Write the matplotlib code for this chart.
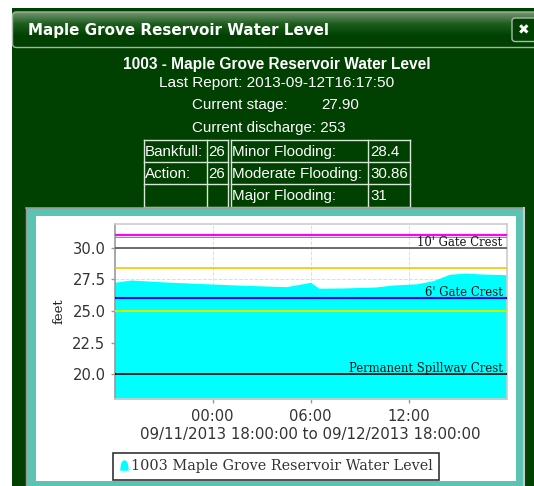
import matplotlib
matplotlib.use('Agg')
import matplotlib.pyplot as plt
import matplotlib.dates as mdates
from matplotlib.lines import Line2D
from matplotlib.patches import FancyBboxPatch, Rectangle
from matplotlib.path import Path
from datetime import datetime
import numpy as np

W, H = 534, 486

# water level
times = ['09-11 18:00', '09-11 19:00', '09-11 21:00', '09-12 00:00', '09-12 02:00', '09-12 04:30',
         '09-12 05:30', '09-12 06:00', '09-12 06:30', '09-12 08:00', '09-12 10:00', '09-12 11:00',
         '09-12 12:30', '09-12 13:30', '09-12 14:30', '09-12 15:30', '09-12 16:30', '09-12 18:00']
levels = [27.27, 27.45, 27.3, 27.13, 27.03, 26.92, 27.15, 27.27, 26.8, 26.82, 26.9, 27.05,
          27.15, 27.4, 27.9, 28.0, 27.92, 27.87]

# horizontal stage lines
stages = [31, 30.86, 30, 28.4, 26, 25, 20]
stage_colors = ['#ff00ff', '#ff30a0', '#555555', '#ffc000', '#0000ff', '#c8f000', '#000000']
stage_widths = [1.6, 0.6, 1.2, 1.2, 1.5, 1.5, 1.2]

crests = ["10' Gate Crest", "6' Gate Crest", 'Permanent Spillway Crest']
crest_levels = [30, 26, 20]

table_rows = [['Bankfull:', '26', 'Minor Flooding:', '28.4'],
              ['Action:', '26', 'Moderate Flooding:', '30.86'],
              ['', '', 'Major Flooding:', '31']]

GREEN = '#004000'
TEAL = '#5cc3b3'
SERIF = 'DejaVu Serif'
SANS = 'DejaVu Sans'
ARIAL = 'Liberation Sans'
HEAD = 10.9

fig = plt.figure(figsize=(W / 100, H / 100), dpi=100, facecolor='white')

# page furniture, in pixel coordinates
bg = fig.add_axes([0, 0, 1, 1])
bg.set_xlim(0, W)
bg.set_ylim(H, 0)
bg.axis('off')
bg.add_patch(Rectangle((12, 8), W - 12, H - 8, fc=GREEN, ec='none'))

bar = FancyBboxPatch((12.5, 12), W, 35.5, boxstyle='round,pad=0,rounding_size=4', fc='none', ec='#9fb59f', lw=1, zorder=2)
bg.add_patch(bar)
grad = np.linspace(0, 1, 36).reshape(-1, 1)
bar_cmap = matplotlib.colors.LinearSegmentedColormap.from_list('bar', ['#6f946f', '#1c5c1c', GREEN, GREEN])
img = bg.imshow(grad, extent=(12, W, 48, 12), aspect='auto', cmap=bar_cmap, zorder=1)
img.set_clip_path(bar)
bg.set_xlim(0, W)
bg.set_ylim(H, 0)
bg.text(28, 30.5, 'Maple Grove Reservoir Water Level', color='white', fontsize=10.9, fontweight='bold', family=SANS, va='center', zorder=3)
bg.add_patch(FancyBboxPatch((512, 18), 30, 23.5, boxstyle='round,pad=0,rounding_size=3', fc=GREEN, ec='#a8bca8', lw=1, zorder=3))
bg.text(524, 30.5, '\u2716', color='white', fontsize=10, ha='center', va='center', family=SANS, zorder=4)

cx = 276.5
bg.text(cx, 64, '1003 - Maple Grove Reservoir Water Level', color='white', fontsize=11.2, fontweight='bold', family=ARIAL, ha='center', va='center')
bg.text(cx, 83, 'Last Report: 2013-09-12T16:17:50', color='white', fontsize=11.1, family=ARIAL, ha='center', va='center')
bg.text(192, 105, 'Current stage:', color='white', fontsize=HEAD, family=ARIAL, va='center')
bg.text(321, 105, '27.90', color='white', fontsize=HEAD, family=ARIAL, va='center')
bg.text(192, 128, 'Current discharge: 253', color='white', fontsize=HEAD, family=ARIAL, va='center')

# flood table
col_x = [143.5, 206.5, 227.5, 230.5, 368, 410]
row_y = [140.5, 162.5, 184.5, 206.5]
for xp in col_x:
    bg.plot([xp, xp], [row_y[0], row_y[-1]], color='#d8e8d8', lw=1)
for yp in row_y:
    bg.plot([col_x[0], col_x[2]], [yp, yp], color='#d8e8d8', lw=1)
    bg.plot([col_x[3], col_x[5]], [yp, yp], color='#d8e8d8', lw=1)
text_x = [145, 208, 232, 370]
for r, row in enumerate(table_rows):
    for c, val in enumerate(row):
        bg.text(text_x[c], (row_y[r] + row_y[r + 1]) / 2, val, color='white', fontsize=HEAD, family=ARIAL, va='center')

# chart frame
bg.add_patch(Rectangle((27, 208), 496, H - 208, fc=TEAL, ec='none', zorder=2))
bg.plot([26, 524], [207.5, 207.5], color='#9a9a9a', lw=1.2, zorder=2)
bg.plot([26, 26], [208, H], color='#9a9a9a', lw=1, zorder=2)
bg.plot([524, 524], [208, H], color='#c8c8c8', lw=1.5, zorder=2)
bg.add_patch(Rectangle((36, 216), 480, 265, fc='white', ec='none', zorder=3))

# the chart itself
L, R, T, B = 114.5, 506.7, 224, 399.3
ax = fig.add_axes([L / W, 1 - B / H, (R - L) / W, (B - T) / H])

t = [datetime.strptime('2013-' + s, '%Y-%m-%d %H:%M') for s in times]
ax.fill_between(t, levels, 18.03, color='#00ffff', lw=0, zorder=2)
for s, c, lw_ in zip(stages, stage_colors, stage_widths):
    ax.axhline(s, color=c, lw=lw_, zorder=3)
for name, lev in zip(crests, crest_levels):
    ax.annotate(name, (1, lev), xycoords=('axes fraction', 'data'), xytext=(-3, -0.7), textcoords='offset points',
                ha='right', va='bottom', fontsize=8.4, family=SERIF, color='#111111', zorder=4)

ax.set_xlim(datetime(2013, 9, 11, 18), datetime(2013, 9, 12, 18))
ax.set_ylim(18.03, 31.87)
ax.xaxis.set_major_locator(mdates.HourLocator(byhour=[0, 6, 12]))
ax.xaxis.set_major_formatter(mdates.DateFormatter('%H:%M'))
ax.set_yticks([20, 22.5, 25, 27.5, 30])
ax.set_yticklabels(['20.0', '22.5', '25.0', '27.5', '30.0'])
ax.grid(True, color='#dddddd', ls='--', lw=0.7, zorder=1)
ax.tick_params(axis='both', labelsize=10.6, labelcolor='#333333', color='#999999', length=3, width=1)
ax.tick_params(axis='x', pad=4)
for lab in ax.get_xticklabels() + ax.get_yticklabels():
    lab.set_family(SANS)
ax.set_xlabel('09/11/2013 18:00:00 to 09/12/2013 18:00:00', fontsize=10.8, family=SANS, color='#333333', labelpad=2)
ax.set_ylabel('feet', fontsize=9.5, family=SERIF, color='#222222', labelpad=5)
for side in ['top', 'right', 'bottom']:
    ax.spines[side].set_color('#cccccc')
ax.spines['left'].set_color('#999999')
for sp in ax.spines.values():
    sp.set_linewidth(1.2)

# legend swatch is a small rounded-top area sample
bell = Path([(-0.8, -1), (-0.8, 0), (-0.6, 1), (0, 1), (0.6, 1), (0.8, 0), (0.8, -1), (-0.8, -1)],
            [Path.MOVETO, Path.CURVE4, Path.CURVE4, Path.CURVE4, Path.CURVE4, Path.CURVE4, Path.CURVE4, Path.CLOSEPOLY])
handle = Line2D([], [], marker=bell, ls='none', color='#00ffff', markersize=7.5, markeredgewidth=0)
leg = ax.legend([handle], ['1003 Maple Grove Reservoir Water Level'], loc='center',
                bbox_to_anchor=(276 / W, 1 - 466 / H), bbox_transform=fig.transFigure,
                prop={'family': SERIF, 'size': 10.4}, fancybox=False, framealpha=1, edgecolor='#333333',
                handletextpad=0.15, borderpad=0.45, handlelength=0.6, labelcolor='#333333', borderaxespad=0)
leg.get_frame().set_linewidth(1.2)

fig.savefig('out.png', dpi=100)
